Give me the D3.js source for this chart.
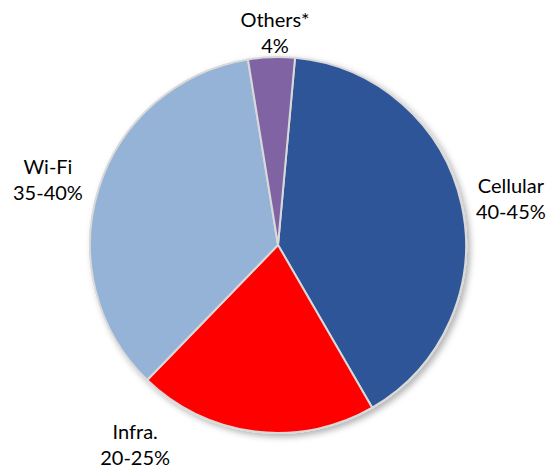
<!DOCTYPE html>
<html><head><meta charset="utf-8">
<script src="https://cdn.jsdelivr.net/npm/d3@7"></script>
<style>body{margin:0;background:#fff}svg{display:block}</style>
</head><body>
<svg id="c" width="552" height="468"></svg>
<script>
const categories = ["Cellular", "Infra.", "Wi-Fi", "Others*"];
const values = [40.2, 20.6, 35.2, 4.0];
const valueLabels = ["40-45%", "20-25%", "35-40%", "4%"];
const colors = ["#2F5597", "#FF0000", "#95B3D7", "#8064A2"];

const W = 552, H = 468, cx = 278, cy = 245, R = 188;
const startAngle = 5.2 * Math.PI / 180;
// label placement: angle shift (deg) from slice middle and radial distance
const labelLayout = {
  "Cellular": {shift: 0.5, dist: 238},
  "Infra.": {shift: 29, dist: 243},
  "Wi-Fi": {shift: -0.9, dist: 240},
  "Others*": {shift: 1.2, dist: 215}
};

const svg = d3.select("#c");
const defs = svg.append("defs");
const f = defs.append("filter").attr("id","sh").attr("x","-20%").attr("y","-20%").attr("width","140%").attr("height","140%");
f.append("feDropShadow").attr("dx",3).attr("dy",3).attr("stdDeviation",3).attr("flood-color","#000").attr("flood-opacity",0.3);

const data = categories.map((c,i)=>({cat:c, v:values[i], lab:valueLabels[i], col:colors[i]}));
const pie = d3.pie().value(d=>d.v).sort(null).startAngle(startAngle).endAngle(startAngle + 2*Math.PI);
const arcs = pie(data);
const arc = d3.arc().innerRadius(0).outerRadius(R);

const g = svg.append("g").attr("transform",`translate(${cx},${cy})`);
g.append("g").attr("filter","url(#sh)").selectAll("path").data(arcs).join("path")
  .attr("d", arc).attr("fill", d=>d.data.col)
  .attr("stroke", "#D9D9D9").attr("stroke-width", 2).attr("stroke-linejoin","round");

const lg = g.append("g").attr("font-family","Lato, 'Open Sans', sans-serif").attr("font-size",20).attr("fill","#000").attr("text-anchor","middle");
arcs.forEach(a=>{
  const L = labelLayout[a.data.cat];
  const ang = (a.startAngle + a.endAngle)/2 + L.shift*Math.PI/180;
  const x = L.dist*Math.sin(ang), y = -L.dist*Math.cos(ang);
  const t = lg.append("text").attr("x",x).attr("y",y);
  t.append("tspan").attr("x",x).attr("dy","-0.15em").text(a.data.cat);
  t.append("tspan").attr("x",x).attr("dy","1.3em").text(a.data.lab);
});
</script>
</body></html>
